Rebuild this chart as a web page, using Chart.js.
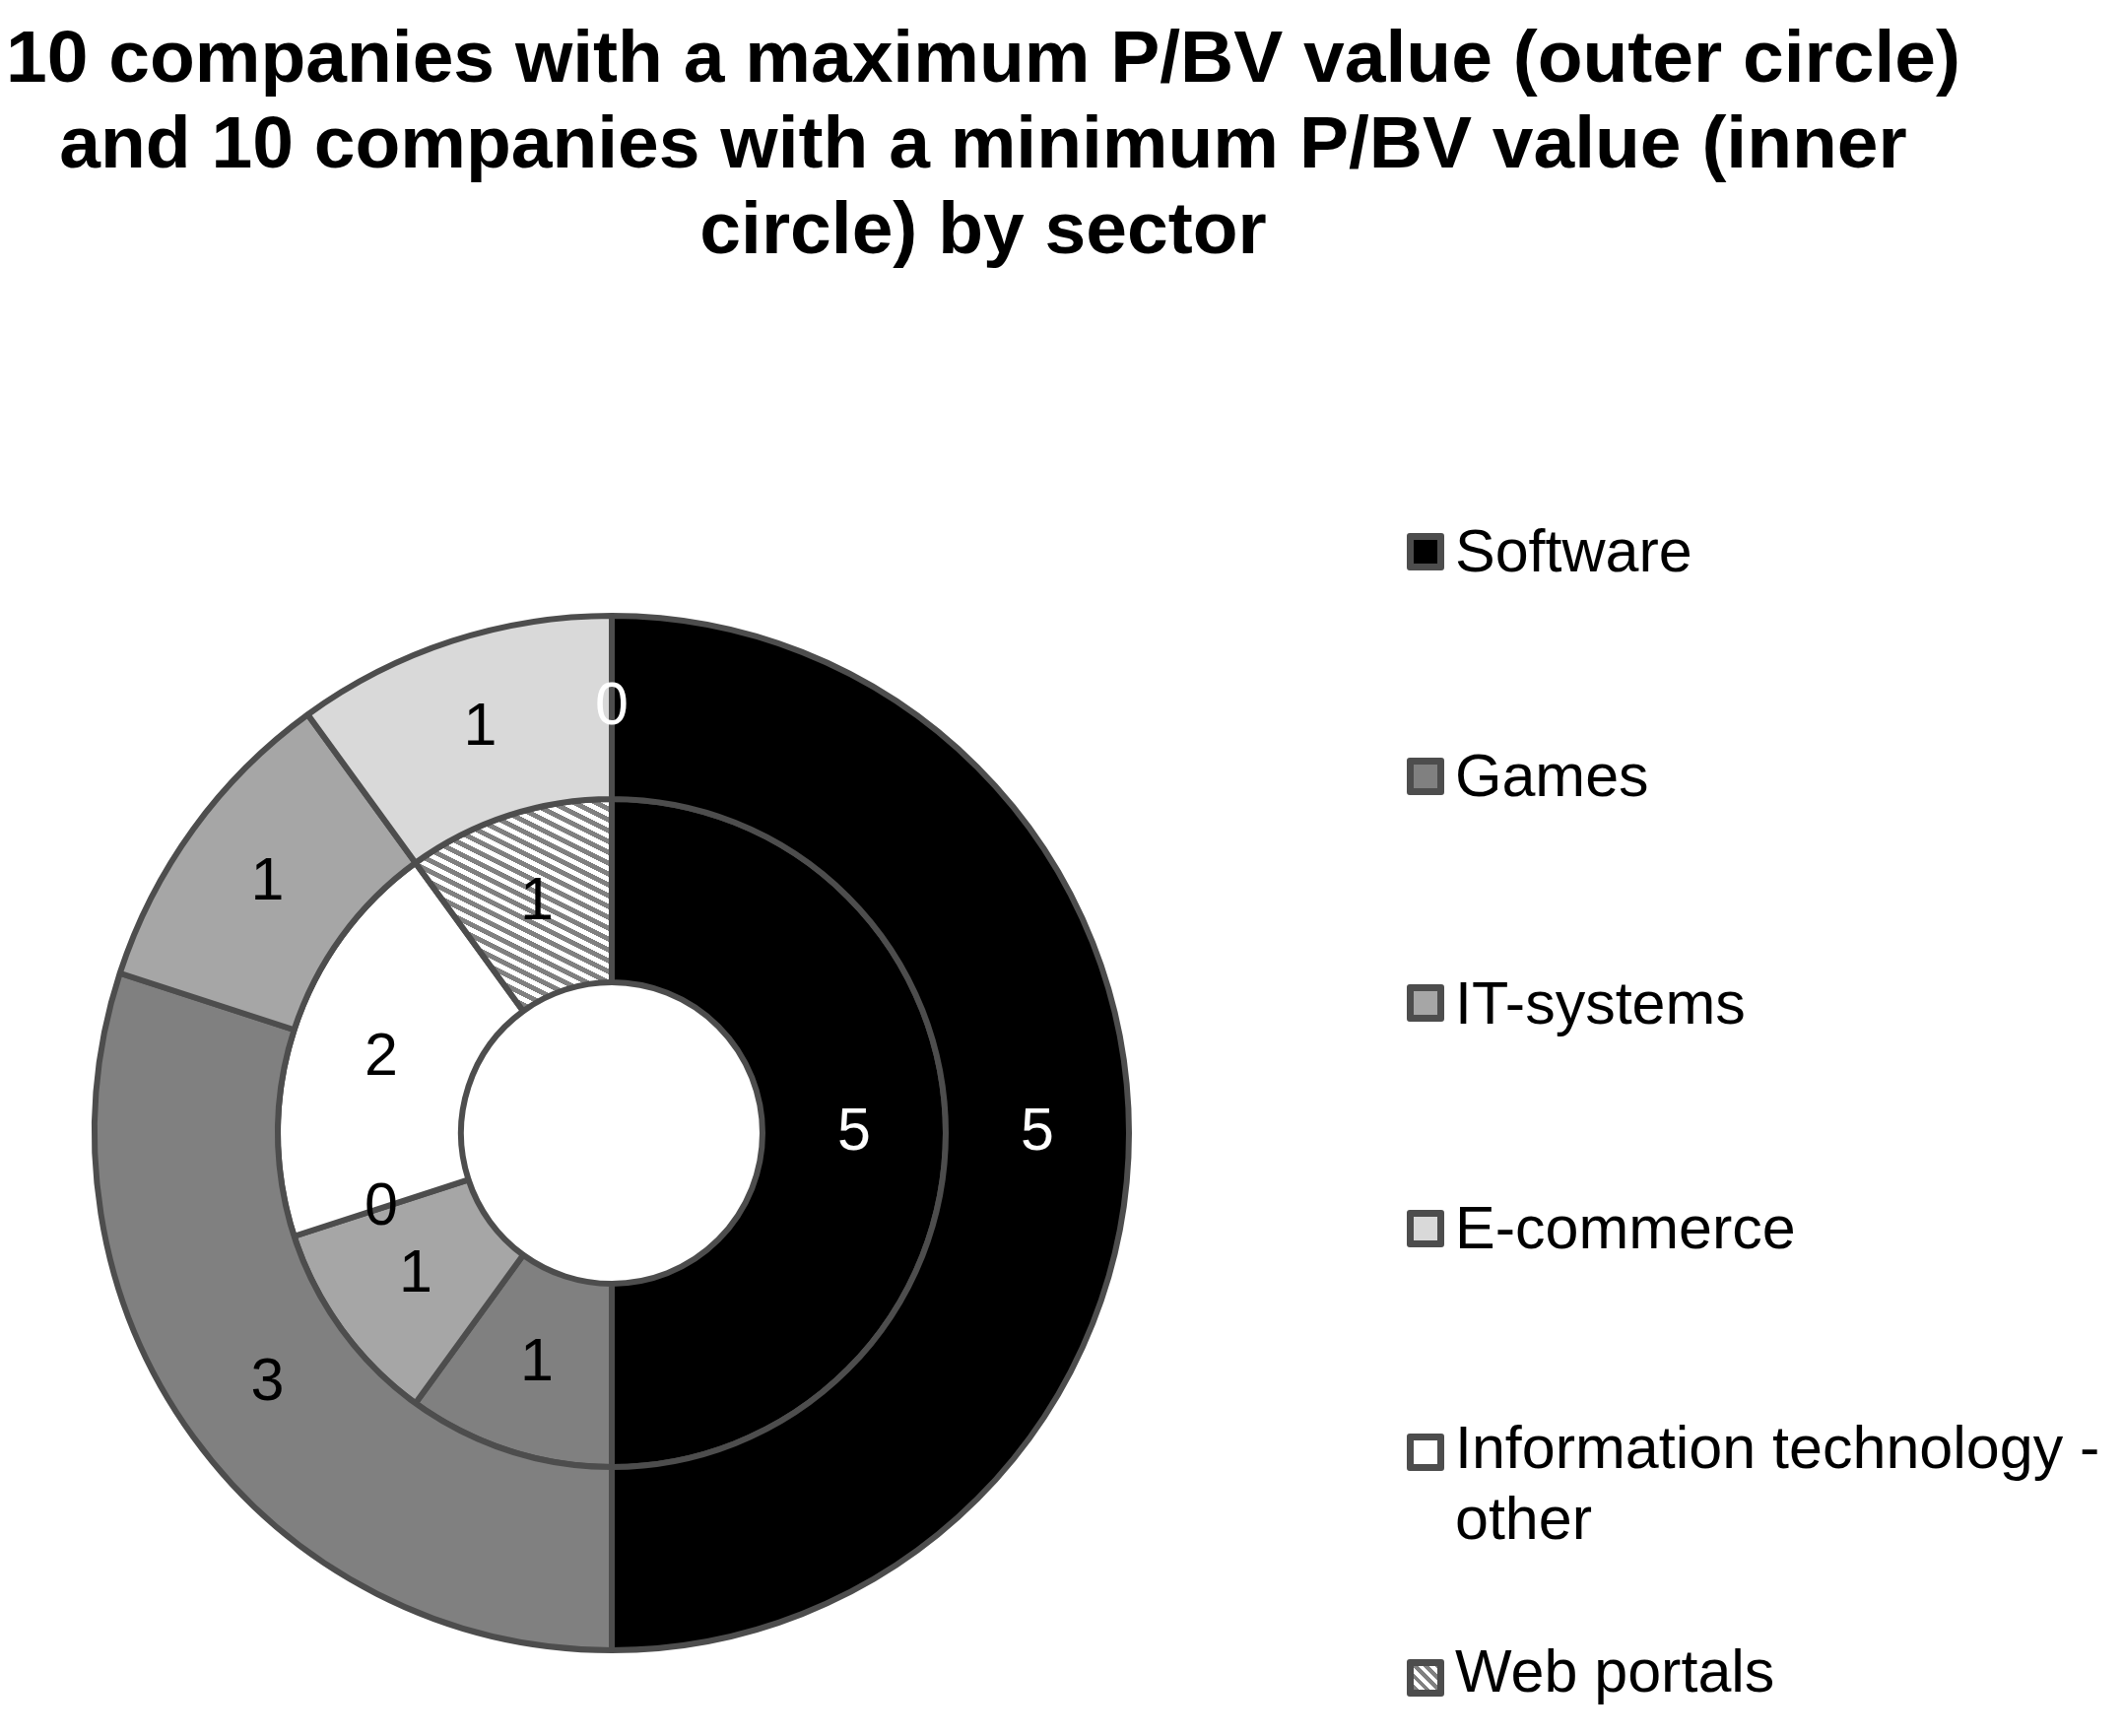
<!DOCTYPE html>
<html>
<head>
<meta charset="utf-8">
<script src="https://cdn.jsdelivr.net/npm/chart.js@4.4.1/dist/chart.umd.min.js"></script>
<style>
  html, body { margin: 0; padding: 0; background: #ffffff; }
  body { width: 2155px; height: 1762px; position: relative; overflow: hidden; font-family: "Liberation Sans", Arial, sans-serif; }
  #title { position: absolute; left: 0; top: 14px; width: 1996px; text-align: center; font-weight: bold; font-size: 75px; line-height: 87px; color: #000; white-space: nowrap; }
  #chartBox { position: absolute; left: 71px; top: 600px; width: 1100px; height: 1100px; }
  .lg-box { position: absolute; left: 1428px; width: 38px; height: 38px; box-sizing: border-box; border: 7px solid #4d4d4d; border-radius: 3px; }
  .lg-text { position: absolute; left: 1477px; font-size: 61px; line-height: 72px; color: #000; white-space: nowrap; }
</style>
</head>
<body>
<div id="title">10 companies with a maximum P/BV value (outer circle)<br>and 10 companies with a minimum P/BV value (inner<br>circle) by sector</div>
<div id="chartBox"><canvas id="c" width="1100" height="1100"></canvas></div>
<div id="legend"></div>
<script>
// ---- data ----
const categories = ['Software', 'Games', 'IT-systems', 'E-commerce', 'Information technology - other', 'Web portals'];
const legendLines = [['Software'], ['Games'], ['IT-systems'], ['E-commerce'], ['Information technology -', 'other'], ['Web portals']];
const maxPBV = [5, 3, 1, 1, 0, 0];   // outer circle
const minPBV = [5, 1, 1, 0, 2, 1];   // inner circle

// ---- styles ----
const borderColor = '#4d4d4d';
const solidColors = ['#000000', '#808080', '#a6a6a6', '#d9d9d9', '#ffffff', null];
const outerLabelColors = ['#ffffff', '#000000', '#000000', '#000000', '#ffffff', '#ffffff'];
const innerLabelColors = ['#ffffff', '#000000', '#000000', '#000000', '#000000', '#000000'];

function makeHatch() {
  const W = 22, H = 11;
  const t = document.createElement('canvas');
  t.width = W; t.height = H;
  const tc = t.getContext('2d');
  const img = tc.createImageData(W, H);
  for (let y = 0; y < H; y++) {
    for (let x = 0; x < W; x++) {
      const v = (((y - x / 2) % H) + H) % H;
      const g = v < H / 2 ? 128 : 255;
      const k = (y * W + x) * 4;
      img.data[k] = g; img.data[k + 1] = g; img.data[k + 2] = g; img.data[k + 3] = 255;
    }
  }
  tc.putImageData(img, 0, 0);
  return t;
}

const ctx = document.getElementById('c').getContext('2d');
const hatch = ctx.createPattern(makeHatch(), 'repeat');
const fills = solidColors.map(c => c === null ? hatch : c);

const labelPlugin = {
  id: 'sliceLabels',
  afterDatasetsDraw(chart) {
    const c = chart.ctx;
    c.save();
    c.font = '61px "Liberation Sans", Arial, sans-serif';
    c.textAlign = 'center';
    c.textBaseline = 'middle';
    chart.data.datasets.forEach((ds, i) => {
      const meta = chart.getDatasetMeta(i);
      const seen = new Set();
      meta.data.forEach((arc, j) => {
        const p = arc.tooltipPosition();
        const key = Math.round(p.x) + ',' + Math.round(p.y);
        if (seen.has(key)) return;
        seen.add(key);
        c.fillStyle = ds.labelColors[j];
        c.fillText(String(ds.data[j]), p.x, p.y);
      });
    });
    c.restore();
  }
};

new Chart(ctx, {
  type: 'doughnut',
  data: {
    labels: categories,
    datasets: [
      { label: 'Maximum P/BV', data: maxPBV, backgroundColor: fills, borderColor: borderColor, borderWidth: 6, labelColors: outerLabelColors },
      { label: 'Minimum P/BV', data: minPBV, backgroundColor: fills, borderColor: borderColor, borderWidth: 6, labelColors: innerLabelColors }
    ]
  },
  options: {
    responsive: false,
    devicePixelRatio: 1,
    animation: false,
    radius: 525,
    cutout: '29.14%',
    layout: { padding: 0 },
    plugins: {
      legend: { display: false },
      title: { display: false },
      tooltip: { enabled: false }
    },
    events: []
  },
  plugins: [labelPlugin]
});

// ---- legend (HTML) ----
const boxCenters = [560, 788, 1018, 1247, 1474, 1703];
const baselines = [580, 808, 1039, 1267, 1490, 1717];
const legend = document.getElementById('legend');
categories.forEach((cat, i) => {
  const b = document.createElement('div');
  b.className = 'lg-box';
  b.style.top = (boxCenters[i] - 19) + 'px';
  if (solidColors[i] === null) {
    b.style.background = 'repeating-linear-gradient(45deg, #808080 0 4px, #ffffff 4px 8px)';
  } else {
    b.style.background = solidColors[i];
  }
  legend.appendChild(b);
  const t = document.createElement('div');
  t.className = 'lg-text';
  t.style.top = (baselines[i] - 57) + 'px';
  t.innerHTML = legendLines[i].join('<br>');
  legend.appendChild(t);
});
</script>
</body>
</html>
